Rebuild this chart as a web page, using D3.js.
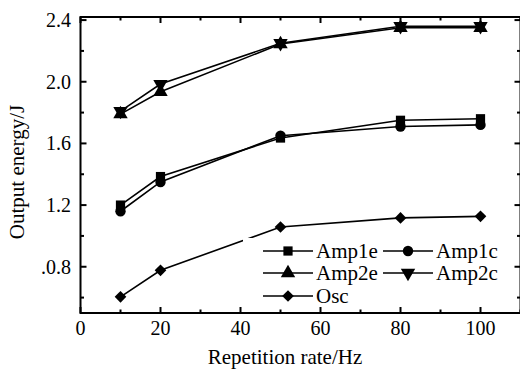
<!DOCTYPE html>
<html>
<head>
<meta charset="utf-8">
<script src="https://cdn.jsdelivr.net/npm/d3@7"></script>
<style>
  body { margin: 0; background: #fff; }
  svg text { font-family: "Liberation Serif", "Times New Roman", serif; }
</style>
</head>
<body>
<div id="chart"></div>
<script>
// data
var rates = [10, 20, 50, 80, 100];
var amp1e = [1.20, 1.385, 1.635, 1.75, 1.76];
var amp1c = [1.16, 1.35, 1.65, 1.71, 1.72];
var amp2e = [1.79, 1.935, 2.245, 2.35, 2.35];
var amp2c = [1.81, 1.985, 2.25, 2.36, 2.36];
var osc = [0.605, 0.777, 1.058, 1.117, 1.127];
var seriesNames = ["Amp1e", "Amp1c", "Amp2e", "Amp2c", "Osc"];
var xTicks = [0, 20, 40, 60, 80, 100];
var xMinor = [10, 30, 50, 70, 90, 110];
var yTicks = [0.8, 1.2, 1.6, 2.0, 2.4];
var yTickLabels = [".0.8", "1.2", "1.6", "2.0", "2.4"];
var yMinor = [0.6, 1.0, 1.4, 1.8, 2.2];

var W = 520, H = 375;
var pLeft = 80.5, pRight = 520.5, pTop = 17, pBottom = 313;

var svg = d3.select("#chart").append("svg").attr("width", W).attr("height", H);

var x = d3.scaleLinear().domain([0, 110]).range([pLeft, pRight]);
var y = d3.scaleLinear().domain([0.5, 2.42]).range([pBottom, pTop]);

var symbols = {
  Amp1e: d3.symbolSquare,
  Amp1c: d3.symbolCircle,
  Amp2e: d3.symbolTriangle,
  Amp2c: d3.symbolTriangle,
  Osc: d3.symbolSquare
};
var symSize = { Amp1e: 85, Amp1c: 85, Amp2e: 90, Amp2c: 90, Osc: 68 };
var symRot = { Amp1e: 0, Amp1c: 0, Amp2e: 0, Amp2c: 180, Osc: 45 };
var seriesVals = [amp1e, amp1c, amp2e, amp2c, osc];

function marker(sel, name) {
  sel.append("path")
    .attr("d", d3.symbol().type(symbols[name]).size(symSize[name]))
    .attr("transform", function (d) {
      return "translate(" + d[0] + "," + d[1] + ") rotate(" + symRot[name] + ")";
    })
    .attr("fill", "#000");
}

// lines + markers
var line = d3.line().x(function (d) { return x(d.r); }).y(function (d) { return y(d.v); });
seriesNames.forEach(function (name, i) {
  var pts = rates.map(function (r, j) { return { r: r, v: seriesVals[i][j] }; });
  svg.append("path").datum(pts)
    .attr("d", line)
    .attr("fill", "none")
    .attr("stroke", "#000")
    .attr("stroke-width", 1.6);
  svg.selectAll(".m" + i).data(pts).enter().append("g")
    .attr("class", "m" + i)
    .each(function (d) {
      marker(d3.select(this).datum([x(d.r), y(d.v)]), name);
    });
});

// legend (white box hides part of the Osc line)
var legend = svg.append("g");
legend.append("rect").attr("x", 243).attr("y", 238).attr("width", 276).attr("height", 73).attr("fill", "#fff");
var legendPos = [[263, 251], [383, 251], [263, 273], [383, 273], [263, 296]];
seriesNames.forEach(function (name, i) {
  var p = legendPos[i];
  legend.append("line")
    .attr("x1", p[0]).attr("x2", p[0] + 50)
    .attr("y1", p[1]).attr("y2", p[1])
    .attr("stroke", "#000").attr("stroke-width", 1.6);
  legend.append("g").datum([p[0] + 25, p[1]]).call(function (g) { marker(g, name); });
  legend.append("text")
    .attr("x", p[0] + 53).attr("y", p[1])
    .attr("dy", "0.35em")
    .attr("font-size", 21)
    .text(name);
});

// frame and ticks
var axes = svg.append("g").attr("stroke", "#000").attr("stroke-width", 2);
axes.append("rect")
  .attr("x", pLeft).attr("y", pTop)
  .attr("width", pRight - pLeft).attr("height", pBottom - pTop)
  .attr("fill", "none");

function vTicks(vals, len) {
  vals.forEach(function (v) {
    axes.append("line").attr("x1", x(v)).attr("x2", x(v)).attr("y1", pBottom).attr("y2", pBottom - len);
    axes.append("line").attr("x1", x(v)).attr("x2", x(v)).attr("y1", pTop).attr("y2", pTop + len);
  });
}
function hTicks(vals, len) {
  vals.forEach(function (v) {
    axes.append("line").attr("y1", y(v)).attr("y2", y(v)).attr("x1", pLeft).attr("x2", pLeft + len);
    axes.append("line").attr("y1", y(v)).attr("y2", y(v)).attr("x1", pRight).attr("x2", pRight - len);
  });
}
vTicks(xTicks, 6);
vTicks(xMinor, 3.5);
hTicks(yTicks, 6);
hTicks(yMinor, 3.5);

// tick labels
svg.selectAll(".xl").data(xTicks).enter().append("text")
  .attr("x", function (d) { return x(d); })
  .attr("y", 335)
  .attr("text-anchor", "middle")
  .attr("font-size", 20)
  .text(function (d) { return d; });

svg.selectAll(".yl").data(yTicks).enter().append("text")
  .attr("x", 71)
  .attr("y", function (d) { return y(d); })
  .attr("dy", "0.34em")
  .attr("text-anchor", "end")
  .attr("font-size", 20)
  .text(function (d, i) { return yTickLabels[i]; });

// axis titles
svg.append("text")
  .attr("x", 285).attr("y", 364)
  .attr("text-anchor", "middle")
  .attr("font-size", 21)
  .text("Repetition rate/Hz");

svg.append("text")
  .attr("transform", "translate(24,172) rotate(-90)")
  .attr("text-anchor", "middle")
  .attr("font-size", 21)
  .text("Output energy/J");
</script>
</body>
</html>
